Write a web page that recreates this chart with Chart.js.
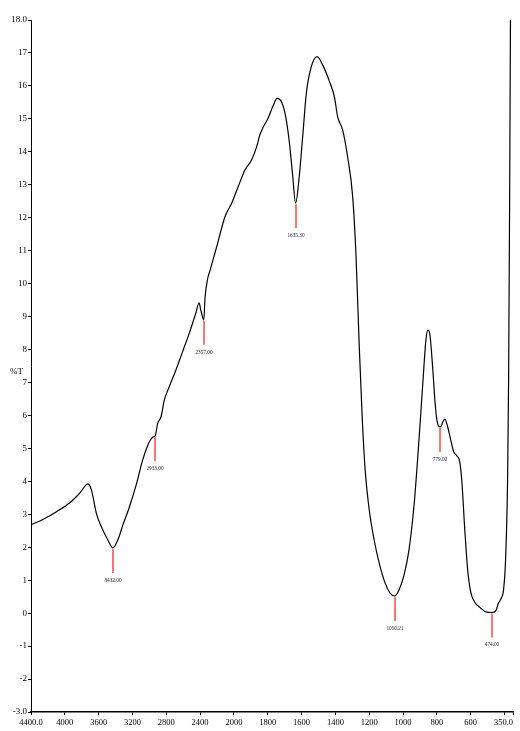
<!DOCTYPE html>
<html><head><meta charset="utf-8">
<script src="https://cdn.jsdelivr.net/npm/chart.js@4.4.1/dist/chart.umd.min.js"></script>
<style>html,body{margin:0;padding:0;background:#fff;overflow:hidden}canvas{display:block}</style>
</head><body>
<canvas id="c" width="520" height="731"></canvas>
<script>
const wavenumbers = [4400,4255,4098,3941,3824,3726,3686,3627,3568,3491,3432,3373,3314,3235,3156,3079,3000,2953,2933,2902,2862,2823,2765,2686,2608,2529,2451,2412,2392,2357,2341,2314,2282,2204,2106,2027,1975,1935,1896,1866,1847,1828,1798,1769,1745,1719,1694,1674,1654,1635.3,1616,1592,1572,1543,1508,1475,1435,1406,1387,1357,1328,1298,1278,1259,1241,1224,1200,1171,1141,1106,1077,1050.21,1024,994,965,935,906,882,865,853,841,824,812,800,779,765,753,736,718,700,681,665,653,635,618,600,577,541,506,474,453,436,419,406,394,382,376,370,365];
const transmittance = [2.68,2.85,3.08,3.35,3.64,3.92,3.74,3.03,2.62,2.22,1.98,2.22,2.67,3.23,3.89,4.65,5.20,5.35,5.37,5.76,5.96,6.47,6.87,7.38,7.93,8.49,9.10,9.42,9.20,8.90,9.60,10.11,10.41,11.12,12.03,12.44,12.94,13.45,13.75,14.15,14.51,14.74,15.02,15.39,15.62,15.52,15.07,14.36,13.35,12.44,13.14,14.56,15.78,16.58,16.89,16.63,16.13,15.67,15.07,14.66,13.85,12.64,10.82,8.08,5.86,4.34,3.13,2.22,1.52,0.91,0.61,0.52,0.70,1.16,1.92,3.28,5.25,7.07,8.29,8.59,8.44,7.38,6.47,5.86,5.65,5.80,5.89,5.65,5.25,4.89,4.77,4.59,4.04,2.52,1.31,0.64,0.34,0.15,0.03,0.02,0.06,0.30,0.46,0.70,1.61,4.04,7.07,12.5,18.0];
const xTickValues = [350,4400,4000,3600,3200,2800,2400,2000,1800,1600,1400,1200,1000,800,600,400];
const xTickLabels = ['350.0','4400.0','4000','3600','3200','2800','2400','2000','1800','1600','1400','1200','1000','800','600',''];
const yTickValues = [-3,-2,-1,0,1,2,3,4,5,6,7,8,9,10,11,12,13,14,15,16,17,18];
const yTickLabels = ['-3.0','-2','-1','0','1','2','3','4','5','6','7','8','9','10','11','12','13','14','15','16','17','18.0'];
const peakWavenumbers = [3432,2933,2357,1635.3,1050.21,779,474];
const peakValues = [1.98,5.37,8.90,12.44,0.52,5.65,0.02];
const peakLabels = ['3432.00','2933.00','2357.00','1635.30','1050.21','779.00','474.00'];
const yAxisTitle = '%T';

const BREAK = 2000;
function toAxis(w){ return w > BREAK ? BREAK + (w - BREAK) / 2 : w; }

const FONT = '"Liberation Serif", "Times New Roman", serif';

const peakPlugin = {
  id: 'peaks',
  afterDatasetsDraw(chart) {
    const {ctx, scales: {x, y}} = chart;
    ctx.save();
    peakWavenumbers.forEach((w, i) => {
      const px = Math.round(x.getPixelForValue(toAxis(w)));
      const py = y.getPixelForValue(peakValues[i]);
      ctx.strokeStyle = '#f24a4a';
      ctx.lineWidth = 1.5;
      ctx.beginPath();
      ctx.moveTo(px, py + 1);
      ctx.lineTo(px, py + 25);
      ctx.stroke();
      ctx.save();
      ctx.translate(px, py + 32);
      ctx.scale(0.75, 1);
      ctx.fillStyle = '#222';
      ctx.font = '7px ' + FONT;
      ctx.textAlign = 'center';
      ctx.textBaseline = 'middle';
      ctx.fillText(peakLabels[i], 0, 0);
      ctx.restore();
    });
    ctx.fillStyle = '#000';
    ctx.font = '9px ' + FONT;
    ctx.textAlign = 'left';
    ctx.textBaseline = 'middle';
    ctx.fillText(yAxisTitle, 10, 372);
    ctx.restore();
  }
};

new Chart(document.getElementById('c'), {
  type: 'line',
  data: {
    datasets: [{
      data: wavenumbers.map((w, i) => ({x: toAxis(w), y: transmittance[i]})),
      borderColor: '#000',
      borderWidth: 1.2,
      pointRadius: 0,
      cubicInterpolationMode: 'monotone',
      fill: false
    }]
  },
  options: {
    responsive: false,
    animation: false,
    devicePixelRatio: 1,
    layout: {padding: {left: 0, right: 7, top: 20, bottom: 0}},
    plugins: {legend: {display: false}, tooltip: {enabled: false}},
    scales: {
      x: {
        type: 'linear', reverse: true,
        min: toAxis(350), max: toAxis(4400),
        afterBuildTicks: s => { s.ticks = xTickValues.map(v => ({value: toAxis(v)})); },
        afterFit: s => { s.height = 19; s.paddingLeft = 0; s.paddingRight = 0; },
        ticks: {autoSkip: false, maxRotation: 0, minRotation: 0, padding: 3, color: '#000', align: 'inner',
          font: {family: FONT, size: 8.5}, callback: (v, i) => xTickLabels[i]},
        grid: {drawOnChartArea: false, drawTicks: true, tickLength: 3, color: '#000'},
        border: {display: true, color: '#000', width: 1.5}
      },
      y: {
        min: -3, max: 18,
        afterBuildTicks: s => { s.ticks = yTickValues.map(v => ({value: v})); },
        afterFit: s => { s.width = 31; s.paddingTop = 0; s.paddingBottom = 0; },
        ticks: {autoSkip: false, padding: 1, color: '#000',
          font: {family: FONT, size: 9}, callback: (v, i) => yTickLabels[i]},
        grid: {drawOnChartArea: false, drawTicks: true, tickLength: 3, color: '#000'},
        border: {display: true, color: '#000', width: 1}
      }
    }
  },
  plugins: [peakPlugin]
});
</script>
</body></html>
